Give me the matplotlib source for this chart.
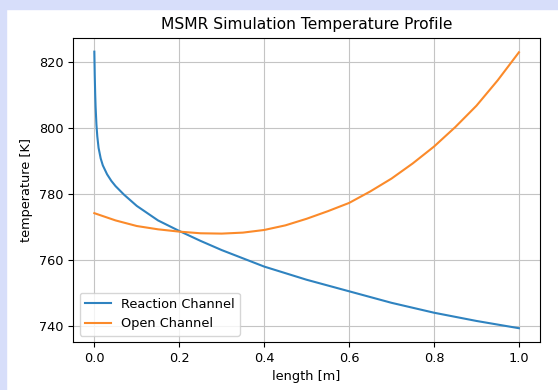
import matplotlib.pyplot as plt
from matplotlib.patches import Rectangle

# values
reaction_x = [0.0, 0.001, 0.002, 0.003, 0.005, 0.007, 0.01, 0.015, 0.02, 0.03,
              0.04, 0.05, 0.07, 0.1, 0.15, 0.2, 0.25, 0.3, 0.4, 0.5,
              0.6, 0.7, 0.8, 0.9, 1.0]
reaction_T = [823.2, 816.0, 810.5, 806.5, 801.0, 797.5, 794.0, 790.8, 788.7, 786.0,
              784.0, 782.4, 779.8, 776.4, 772.0, 768.8, 765.8, 763.0, 758.0, 754.0,
              750.5, 747.0, 744.0, 741.5, 739.3]

open_x = [0.0, 0.05, 0.1, 0.15, 0.2, 0.25, 0.3, 0.35, 0.4, 0.45, 0.5,
          0.55, 0.6, 0.65, 0.7, 0.75, 0.8, 0.85, 0.9, 0.95, 1.0]
open_T = [774.2, 772.0, 770.3, 769.3, 768.6, 768.1, 768.0, 768.3, 769.1, 770.5, 772.5,
          774.8, 777.3, 780.8, 784.7, 789.3, 794.4, 800.3, 806.8, 814.5, 823.0]

fig = plt.figure(figsize=(5.58, 3.90), dpi=100)

# light frame strips from the screenshot (top and left edges)
fig.patches.append(Rectangle((0, 1 - 9 / 390), 1, 9 / 390, transform=fig.transFigure,
                             color='#d7defa', zorder=-1))
fig.patches.append(Rectangle((0, 0), 6 / 558, 1, transform=fig.transFigure,
                             color='#d7defa', zorder=-1))

ax = fig.add_axes([0.131, 0.123, 0.837, 0.78])
ax.plot(reaction_x, reaction_T, color='#2f83c0', label='Reaction Channel')
ax.plot(open_x, open_T, color='#fb8a2a', label='Open Channel')

ax.set_title('MSMR Simulation Temperature Profile', fontsize=11.2)
ax.set_xlabel('length [m]', fontsize=9.3)
ax.set_ylabel('temperature [K]', fontsize=9.3)
ax.tick_params(labelsize=9.3)
ax.set_yticks([740, 760, 780, 800, 820])
ax.grid(True, color='#c4c4c4')
ax.legend(loc='lower left', fontsize=9.3)

fig.savefig('out.png', dpi=100)
